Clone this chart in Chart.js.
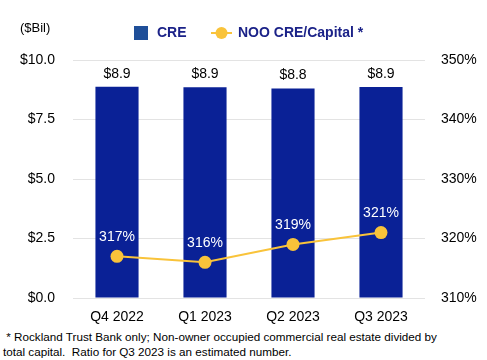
<!DOCTYPE html>
<html>
<head>
<meta charset="utf-8">
<title>CRE</title>
<script src="https://cdn.jsdelivr.net/npm/chart.js@4/dist/chart.umd.min.js"></script>
<style type="text/css">
body { margin: 0; background: #fff; font-family: "Liberation Sans", Arial, sans-serif; }
#wrap { position: relative; width: 487px; height: 360px; }
#unit { position: absolute; left: 20px; top: 20px; font-size: 13px; color: #000; }
#note { position: absolute; left: 3px; top: 329px; font-size: 11.7px; line-height: 15px; color: #000; white-space: pre; }
</style>
</head>
<body>
<div id="wrap">
	<canvas id="c" width="487" height="328" style="position:absolute;left:0;top:0;width:487px;height:328px"></canvas>
	<div id="unit">($Bil)</div>
	<div id="note"> * Rockland Trust Bank only; Non-owner occupied commercial real estate divided by
total capital.  Ratio for Q3 2023 is an estimated number.</div>
</div>

<script type="text/javascript">

var quarters = ["Q4 2022", "Q1 2023", "Q2 2023", "Q3 2023"];
var creBil = [8.88, 8.86, 8.80, 8.87];
var nooRatio = [317, 316, 319, 321];
var leftTicks = [0, 2.5, 5, 7.5, 10];
var rightTicks = [310, 320, 330, 340, 350];

var barColor = "#0A2196";
var lineColor = "#F9C33A";
var navy = "#1B2288";
var font = "'Liberation Sans', Arial, sans-serif";

// labels above bars and points + a hand drawn legend
var labelsPlugin = {
	id: "labels",
	afterDatasetsDraw: function(chart) {
		var ctx = chart.ctx;
		ctx.save();
		ctx.font = "14px " + font;
		ctx.textAlign = "center";
		ctx.textBaseline = "middle";
		// dataset 1 = bars, dataset 0 = line
		chart.getDatasetMeta(1).data.forEach(function(bar, i) {
			ctx.fillStyle = "#000";
			ctx.fillText("$" + creBil[i].toFixed(1), bar.x, bar.y - 13);
		});
		chart.getDatasetMeta(0).data.forEach(function(pt, i) {
			ctx.fillStyle = "#fff";
			ctx.fillText(nooRatio[i] + "%", pt.x, pt.y - 19);
		});

		// legend
		ctx.font = "bold 14px " + font;
		ctx.textAlign = "left";
		ctx.fillStyle = "#1F4F99";
		ctx.fillRect(134, 26, 14, 14);
		ctx.fillStyle = navy;
		ctx.fillText("CRE", 157, 33);
		ctx.strokeStyle = lineColor;
		ctx.lineWidth = 2;
		ctx.beginPath();
		ctx.moveTo(211, 33);
		ctx.lineTo(232, 33);
		ctx.stroke();
		ctx.fillStyle = lineColor;
		ctx.beginPath();
		ctx.arc(221.5, 33, 6, 0, Math.PI * 2);
		ctx.fill();
		ctx.fillStyle = navy;
		ctx.fillText("NOO CRE/Capital *", 238, 33);
		ctx.restore();
	}
};

var ctx = document.getElementById("c").getContext("2d");
window.chart = new Chart(ctx, {
	data: {
		labels: quarters,
		datasets: [
			{
				type: "line",
				label: "NOO CRE/Capital *",
				data: nooRatio,
				yAxisID: "y2",
				borderColor: lineColor,
				backgroundColor: lineColor,
				borderWidth: 2,
				pointRadius: 6.5,
				pointBackgroundColor: lineColor,
				pointBorderWidth: 0,
				order: 0
			},
			{
				type: "bar",
				label: "CRE",
				data: creBil,
				yAxisID: "y",
				backgroundColor: barColor,
				categoryPercentage: 1,
				barPercentage: 0.49,
				order: 1
			}
		]
	},
	options: {
		responsive: false,
		animation: false,
		layout: { padding: { top: 60, left: 0, right: 0, bottom: 0 } },
		plugins: { legend: { display: false }, tooltip: { enabled: false } },
		scales: {
			x: {
				grid: { display: false, drawTicks: false },
				border: { display: false },
				ticks: { color: "#000", font: { family: font, size: 14 }, padding: 11 },
				afterFit: function(s) { s.height = 30; }
			},
			y: {
				position: "left",
				min: 0, max: 10,
				afterBuildTicks: function(s) { s.ticks = leftTicks.map(function(v) { return { value: v }; }); },
				grid: { color: "#E3E3E3", lineWidth: 1, drawTicks: false },
				border: { display: false },
				ticks: {
					color: "#000", font: { family: font, size: 14 }, padding: 18,
					callback: function(v) { return "$" + Number(v).toFixed(1); }
				},
				afterFit: function(s) { s.width = 73; }
			},
			y2: {
				position: "right",
				min: 310, max: 350,
				afterBuildTicks: function(s) { s.ticks = rightTicks.map(function(v) { return { value: v }; }); },
				grid: { display: false, drawTicks: false },
				border: { display: false },
				ticks: {
					color: "#000", font: { family: font, size: 14 }, padding: 16,
					callback: function(v) { return v + "%"; }
				},
				afterFit: function(s) { s.width = 62; }
			}
		}
	},
	plugins: [labelsPlugin]
});

</script>
</body>
</html>
